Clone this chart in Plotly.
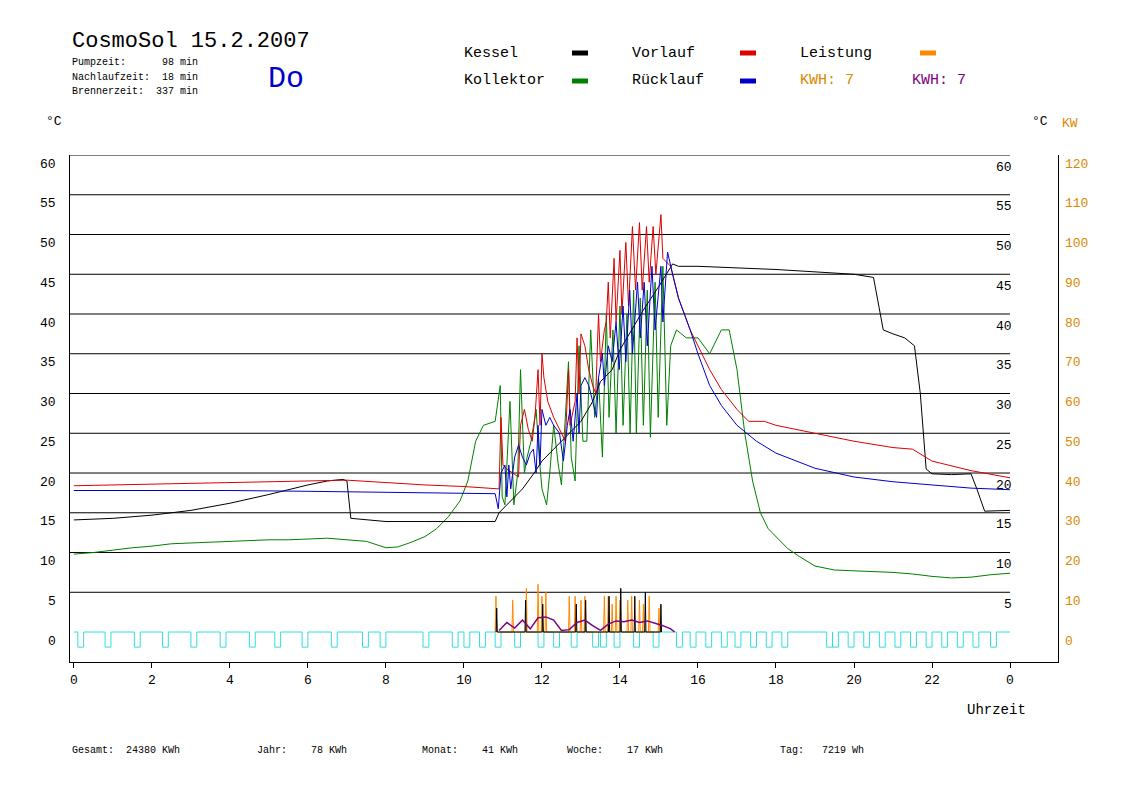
import plotly.graph_objects as go

#region Data ------------------------------------------------------------------
kessel_t = [0, 1, 2, 3, 4, 5, 6, 6.5, 6.9, 7.0, 7.1, 7.5, 8, 9, 10, 10.8, 10.9, 11.0, 11.3, 11.5, 11.8, 12.0, 12.3,
            12.6, 13.0, 13.3, 13.5, 13.8, 14.0, 14.3, 14.6, 15.0, 15.2, 15.35, 15.5, 16, 17, 18, 19, 20, 20.5, 20.6,
            20.75, 21.0, 21.3, 21.55, 21.7, 21.85, 22.0, 22.5, 23.0, 23.15, 23.35, 24]
kessel_v = [14.1, 14.3, 14.7, 15.3, 16.2, 17.3, 18.5, 19.0, 19.2, 19.0, 14.3, 14.1, 13.9, 13.9, 13.9, 13.9, 15.0, 15.5,
            17.0, 18.0, 20.0, 21.5, 23.0, 24.5, 26.5, 29.0, 31.5, 33.0, 35.5, 38.0, 40.5, 43.5, 45.2, 46.3, 46.0, 46.0,
            45.8, 45.6, 45.3, 45.0, 44.6, 42.0, 38.0, 37.5, 37.0, 36.0, 30.0, 20.5, 19.9, 19.8, 19.9, 18.0, 15.2, 15.3]

vorlauf_t = [0, 2, 4, 6, 7, 8, 9, 10, 10.8, 10.9, 10.95, 11.0, 11.1, 11.25, 11.4, 11.45, 11.55, 11.65, 11.75, 11.82,
             11.9, 11.95, 12.0, 12.05, 12.15, 12.3, 12.5, 12.6, 12.68, 12.72, 12.85, 12.9, 12.95, 13.0, 13.1, 13.2,
             13.3, 13.38, 13.45, 13.5, 13.6, 13.65, 13.7, 13.75, 13.85, 13.9, 14.0, 14.05, 14.15, 14.22, 14.32, 14.4,
             14.5, 14.57, 14.68, 14.75, 14.85, 14.92, 15.05, 15.1, 15.3, 15.5, 15.8, 16.0, 16.3, 16.6, 17.0, 17.3,
             17.7, 18.0, 18.5, 19.0, 20.0, 21.0, 21.5, 22.0, 23.0, 24.0]
vorlauf_v = [18.4, 18.6, 18.8, 19.0, 19.1, 18.8, 18.5, 18.3, 18.1, 18.0, 27.0, 21.0, 20.5, 20.0, 19.5, 26.0, 28.0,
             25.5, 24.0, 27.0, 33.0, 26.0, 35.0, 32.0, 29.0, 27.0, 25.0, 24.0, 33.0, 26.0, 29.0, 37.0, 30.0, 37.5,
             36.0, 33.0, 31.0, 30.0, 40.0, 34.0, 38.0, 39.0, 44.0, 37.0, 47.0, 39.0, 48.0, 40.0, 49.0, 41.0, 51.0,
             43.0, 51.5, 43.0, 51.0, 44.0, 51.0, 45.0, 52.5, 47.0, 46.0, 42.0, 38.0, 36.0, 33.0, 30.5, 28.0, 26.5,
             26.5, 26.0, 25.5, 25.0, 24.0, 23.2, 23.0, 21.5, 20.3, 19.4]

ruecklauf_t = [0, 2, 4, 6, 8, 10, 10.8, 10.88, 10.95, 11.05, 11.1, 11.15, 11.2, 11.3, 11.4, 11.5, 11.6, 11.7, 11.78,
               11.85, 11.9, 11.95, 12.0, 12.1, 12.2, 12.3, 12.45, 12.55, 12.65, 12.72, 12.8, 12.9, 12.95, 13.0, 13.1,
               13.2, 13.3, 13.4, 13.45, 13.55, 13.6, 13.7, 13.8, 13.9, 13.98, 14.08, 14.15, 14.25, 14.32, 14.45,
               14.52, 14.62, 14.7, 14.82, 14.9, 15.05, 15.1, 15.22, 15.35, 15.5, 15.8, 16.0, 16.3, 16.6, 17.0, 17.5,
               18.0, 18.5, 19.0, 20.0, 21.0, 22.0, 23.0, 24.0]
ruecklauf_v = [17.8, 17.8, 17.8, 17.7, 17.6, 17.5, 17.4, 15.5, 20.0, 21.0, 17.0, 21.0, 18.0, 22.0, 23.5, 22.0, 21.0,
               22.5, 23.0, 20.0, 26.0, 21.0, 28.0, 26.0, 27.0, 26.0, 25.0, 21.5, 26.0, 28.0, 24.0, 30.0, 25.0, 31.0,
               32.0, 31.0, 29.0, 27.0, 32.0, 35.0, 31.0, 36.0, 34.0, 39.0, 33.0, 41.0, 34.0, 43.0, 35.0, 44.0, 37.0,
               44.0, 36.0, 46.0, 38.0, 46.0, 39.0, 47.8, 45.0, 42.0, 38.0, 35.0, 31.0, 28.5, 26.0, 24.0, 22.5, 21.5,
               20.6, 19.5, 18.9, 18.5, 18.1, 17.9]

kollektor_t = [0, 0.5, 1, 1.5, 2, 2.5, 3, 3.5, 4, 4.5, 5, 5.5, 6, 6.5, 7, 7.5, 8, 8.3, 8.6, 9, 9.3, 9.6, 9.9, 10.1,
               10.3, 10.5, 10.8, 10.93, 10.98, 11.05, 11.18, 11.28, 11.38, 11.45, 11.55, 11.62, 11.72, 11.85, 11.93,
               12.0, 12.12, 12.2, 12.3, 12.42, 12.5, 12.6, 12.68, 12.75, 12.85, 12.95, 13.05, 13.15, 13.25, 13.35,
               13.45, 13.55, 13.65, 13.72, 13.82, 13.9, 14.0, 14.08, 14.18, 14.26, 14.35, 14.42, 14.52, 14.6, 14.7,
               14.78, 14.9, 14.98, 15.1, 15.2, 15.3, 15.45, 15.7, 16.0, 16.3, 16.6, 16.8, 17.0, 17.2, 17.4, 17.6, 17.8,
               18.0, 18.3, 18.6, 19.0, 19.5, 20.0, 20.5, 21.0, 21.5, 22.0, 22.5, 23.0, 23.5, 24.0]
kollektor_v = [9.8, 10.0, 10.3, 10.6, 10.8, 11.1, 11.2, 11.3, 11.4, 11.5, 11.6, 11.6, 11.7, 11.8, 11.6, 11.4, 10.6,
               10.7, 11.2, 12.0, 13.0, 14.5, 16.5, 19.0, 24.0, 26.0, 26.5, 31.0, 17.0, 16.0, 29.0, 16.0, 20.0, 33.0,
               20.0, 22.0, 24.0, 28.0, 22.0, 18.0, 16.0, 20.0, 26.0, 21.0, 18.5, 28.0, 34.0, 22.0, 19.0, 36.0, 24.0,
               24.0, 38.0, 27.0, 32.0, 22.0, 40.0, 27.0, 38.0, 25.0, 41.0, 26.0, 40.0, 25.0, 43.0, 25.0, 42.0, 26.0,
               43.0, 24.5, 44.0, 27.0, 46.0, 26.0, 36.0, 38.0, 37.0, 37.0, 35.0, 38.0, 38.0, 33.0, 25.0, 19.0, 15.0,
               13.0, 12.0, 10.5, 9.5, 8.3, 7.8, 7.7, 7.6, 7.5, 7.3, 7.0, 6.8, 6.9, 7.2, 7.4]

# Leistung spikes (kW), burner spikes (temp scale), pump-off dips (start hour)
leistung_t = [10.82, 11.25, 11.6, 11.9, 12.0, 12.1, 12.7, 12.85, 13.0, 13.1, 13.6, 13.7, 13.8, 13.9, 14.0, 14.2, 14.3,
              14.5, 14.6, 14.75, 15.0]
leistung_kw = [9, 8, 11, 12, 9, 10, 9, 9, 8, 9, 9, 9, 7, 9, 8, 8, 9, 8, 7, 9, 6]
brenner_t = [10.84, 11.58, 12.02, 12.88, 13.12, 13.72, 14.02, 14.38, 14.65, 15.05]
brenner_v = [3.0, 4.0, 3.5, 3.5, 4.0, 4.5, 5.5, 4.5, 5.0, 3.5]
kwh_t = [10.9, 11.1, 11.3, 11.5, 11.7, 11.9, 12.1, 12.3, 12.5, 12.7, 12.9, 13.1, 13.3, 13.5, 13.7, 13.9, 14.1, 14.3,
         14.5, 14.7, 14.9, 15.1, 15.3, 15.4]
kwh_v = [0.2, 1.2, 0.5, 1.5, 0.4, 1.8, 1.9, 1.5, 0.2, 0.3, 1.2, 1.5, 0.8, 0.2, 1.0, 1.4, 1.3, 1.5, 1.2, 1.4, 1.1,
         0.8, 0.4, 0.0]
pump_off = [0.1, 0.8, 1.55, 2.27, 3.0, 3.75, 4.5, 5.15, 5.85, 6.6, 7.4, 7.85, 8.95, 9.7, 10.0, 10.4, 10.8, 11.3,
            11.9, 12.3, 12.75, 13.3, 13.5, 13.85, 14.35, 14.85, 15.45, 15.8, 16.2, 16.6, 16.95, 17.35, 17.75, 18.15,
            19.3, 19.45, 19.85, 20.25, 20.65, 21.05, 21.45, 21.85, 22.25, 22.65, 23.05, 23.5]
y_ticks = [0, 5, 10, 15, 20, 25, 30, 35, 40, 45, 50, 55, 60]
x_ticks = [0, 2, 4, 6, 8, 10, 12, 14, 16, 18, 20, 22, 24]
x_labels = ['0', '2', '4', '6', '8', '10', '12', '14', '16', '18', '20', '22', '0']
#endregion

mono = 'Liberation Mono'
fig = go.Figure()


def spikes(ts, vs, w=0.02):
    xs, ys = [], []
    for t, v in zip(ts, vs):
        xs += [t - w, t, t + w]
        ys += [0, v, 0]
    return xs, ys


# pump signal
px, py = [0], [0]
for t in pump_off:
    px += [t, t, t + 0.15, t + 0.15]
    py += [0, -1.9, -1.9, 0]
px.append(24)
py.append(0)
fig.add_trace(go.Scatter(x=px, y=py, mode='lines', line=dict(color='#33dddd', width=1)))

lx, ly = spikes(leistung_t, [k / 2 for k in leistung_kw])
fig.add_trace(go.Scatter(x=lx, y=ly, mode='lines', line=dict(color='#ff8800', width=1)))
bx, by = spikes(brenner_t, brenner_v, 0.015)
fig.add_trace(go.Scatter(x=bx, y=by, mode='lines', line=dict(color='black', width=1)))
fig.add_trace(go.Scatter(x=kwh_t, y=kwh_v, mode='lines', line=dict(color='#800080', width=1.5)))

fig.add_trace(go.Scatter(x=kollektor_t, y=kollektor_v, mode='lines', line=dict(color='#008000', width=1)))
fig.add_trace(go.Scatter(x=kessel_t, y=kessel_v, mode='lines', line=dict(color='black', width=1)))
fig.add_trace(go.Scatter(x=vorlauf_t, y=vorlauf_v, mode='lines', line=dict(color='#dd0000', width=1)))
fig.add_trace(go.Scatter(x=ruecklauf_t, y=ruecklauf_v, mode='lines', line=dict(color='#0000cc', width=1)))

# grid lines only up to 24h
for v in y_ticks[1:]:
    fig.add_shape(type='line', x0=-0.1, x1=24, y0=v, y1=v, line=dict(color='black', width=1), layer='below')

ann = []
for v in y_ticks:
    ann.append(dict(x=-0.012, y=v, xref='paper', yref='y', text=str(v), showarrow=False, xanchor='right',
                    yshift=-9, font=dict(family=mono, size=13, color='black')))
    if v > 0:
        ann.append(dict(x=0.955, y=v, xref='paper', yref='y', text=str(v), showarrow=False, xanchor='right',
                        yshift=-12, font=dict(family=mono, size=13, color='black')))
    ann.append(dict(x=1.005, y=v, xref='paper', yref='y', text=str(v * 2), showarrow=False, xanchor='left',
                    yshift=-9, font=dict(family=mono, size=13, color='#dd8800')))


def txt(x, y, s, size=13, color='black', anchor='left'):
    ann.append(dict(x=x, y=y, xref='paper', yref='paper', text=s, showarrow=False, xanchor=anchor,
                    yanchor='middle', font=dict(family=mono, size=size, color=color)))


# pixel -> paper helpers (page renders with an 8px offset)
W, H = 1148, 812
OFF = 8
L, R, T, B = 70 - OFF, 1058 - OFF, 155 - OFF, 662 - OFF


def fx(p):
    return (p - OFF - L) / (R - L)


def fy(p):
    return (B - p + OFF) / (B - T)


txt(fx(70), fy(42), 'CosmoSol 15.2.2007', 22)
txt(fx(70), fy(63), 'Pumpzeit:      98 min', 10)
txt(fx(70), fy(77), 'Nachlaufzeit:  18 min', 10)
txt(fx(70), fy(91), 'Brennerzeit:  337 min', 10)
txt(fx(266), fy(79), 'Do', 30, '#0000cc')
txt(fx(462), fy(53), 'Kessel', 15)
txt(fx(462), fy(81), 'Kollektor', 15)
txt(fx(630), fy(53), 'Vorlauf', 15)
txt(fx(630), fy(81), 'Rücklauf', 15)
txt(fx(798), fy(53), 'Leistung', 15)
txt(fx(798), fy(81), 'KWH: 7', 15, '#dd8800')
txt(fx(910), fy(81), 'KWH: 7', 15, '#800080')
txt(fx(44), fy(122), '°C')
txt(fx(1030), fy(122), '°C', 13)
txt(fx(1060), fy(124), 'KW', 13, '#dd8800')
txt(fx(965), fy(710), 'Uhrzeit', 14)
for x0, s in [(70, 'Gesamt:  24380 KWh'), (255, 'Jahr:    78 KWh'), (420, 'Monat:    41 KWh'),
              (565, 'Woche:    17 KWh'), (778, 'Tag:   7219 Wh')]:
    txt(fx(x0), fy(750), s, 10)

for x0, y0, c in [(572, 53, 'black'), (572, 81, '#008000'), (740, 53, '#dd0000'), (740, 81, '#0000cc'),
                  (920, 53, '#ff8800')]:
    fig.add_shape(type='line', xref='paper', yref='paper', x0=fx(x0), x1=fx(x0 + 16), y0=fy(y0), y1=fy(y0),
                  line=dict(color=c, width=5))

fig.update_layout(width=W, height=H, margin=dict(l=L, r=W - R, t=T, b=H - B), plot_bgcolor='white',
                  paper_bgcolor='white', showlegend=False, annotations=ann)
fig.update_xaxes(range=[-0.1, 25.23], tickvals=x_ticks, ticktext=x_labels, showgrid=False, zeroline=False,
                 showline=True, linecolor='black', ticks='outside', ticklen=5, tickcolor='black',
                 tickfont=dict(family=mono, size=13, color='black'))
fig.update_yaxes(range=[-3.77, 60], showticklabels=False, showgrid=False, zeroline=False, showline=True,
                 linecolor='black', mirror=True, ticks='')

fig.write_html('out.html')
